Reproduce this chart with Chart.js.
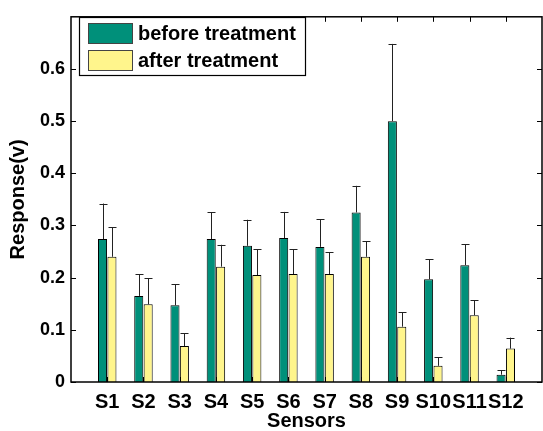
<!DOCTYPE html>
<html>
<head>
<meta charset="utf-8">
<script src="https://cdn.jsdelivr.net/npm/chart.js@4/dist/chart.umd.min.js"></script>
<style>
  html, body { margin: 0; padding: 0; background: #fff; }
  #wrap { width: 543px; height: 431px; }
</style>
</head>
<body>
<div id="wrap"><canvas id="bar-chart"></canvas></div>
<script>
// sensor names and measured responses (V)
var sensors = ["S1","S2","S3","S4","S5","S6","S7","S8","S9","S10","S11","S12"];
var before = [0.274,0.165,0.147,0.274,0.261,0.276,0.259,0.325,0.500,0.197,0.224,0.014];
var beforeErr = [0.068,0.042,0.040,0.051,0.050,0.050,0.053,0.051,0.148,0.038,0.040,0.009];
var after = [0.240,0.149,0.069,0.221,0.205,0.207,0.207,0.240,0.106,0.031,0.128,0.064];
var afterErr = [0.057,0.050,0.024,0.042,0.049,0.047,0.042,0.030,0.028,0.016,0.029,0.021];
var yTicks = [0,0.1,0.2,0.3,0.4,0.5,0.6];

var green = "#00907a";
var yellow = "#fff58c";
var fam = "'Liberation Sans', Arial, sans-serif";
var bigFont = { family: fam, size: 20, weight: "bold" };
var tickFont = { family: fam, size: 18, weight: "bold" };

function pts(vals) {
  return vals.map(function (v, i) { return { x: i + 1, y: v }; });
}

// upward error bars
var errorBars = {
  id: "errorBars",
  afterDatasetsDraw: function (chart) {
    var ctx = chart.ctx, y = chart.scales.y;
    var errs = [beforeErr, afterErr];
    ctx.save();
    ctx.strokeStyle = "#222";
    ctx.lineWidth = 1;
    chart.data.datasets.forEach(function (ds, d) {
      chart.getDatasetMeta(d).data.forEach(function (bar, i) {
        var top = y.getPixelForValue(ds.data[i].y + errs[d][i]);
        var base = y.getPixelForValue(ds.data[i].y);
        var x = Math.round(bar.x) + 0.5;
        ctx.beginPath();
        ctx.moveTo(x, base);
        ctx.lineTo(x, top);
        ctx.moveTo(x - 4, Math.round(top) + 0.5);
        ctx.lineTo(x + 4, Math.round(top) + 0.5);
        ctx.stroke();
      });
    });
    ctx.restore();
  }
};

// matlab style box with inward ticks, plus legend box
var frame = {
  id: "frame",
  afterDraw: function (chart) {
    var ctx = chart.ctx, a = chart.chartArea;
    var xs = chart.scales.x, ys = chart.scales.y;
    ctx.save();
    ctx.strokeStyle = "#000";
    ctx.lineWidth = 1.5;
    ctx.strokeRect(a.left, a.top, a.right - a.left, a.bottom - a.top);
    ctx.lineWidth = 1;
    ctx.beginPath();
    sensors.forEach(function (s, i) {
      var px = Math.round(xs.getPixelForValue(i + 1)) + 0.5;
      ctx.moveTo(px, a.top); ctx.lineTo(px, a.top + 5);
      ctx.moveTo(px, a.bottom); ctx.lineTo(px, a.bottom - 5);
    });
    yTicks.forEach(function (v) {
      var py = Math.round(ys.getPixelForValue(v)) + 0.5;
      ctx.moveTo(a.left, py); ctx.lineTo(a.left + 5, py);
      ctx.moveTo(a.right, py); ctx.lineTo(a.right - 5, py);
    });
    ctx.stroke();

    // legend
    var lx = 79, ly = 17, lw = 226, lh = 58;
    ctx.fillStyle = "#fff";
    ctx.fillRect(lx, ly, lw, lh);
    ctx.lineWidth = 1.2;
    ctx.strokeRect(lx + 0.5, ly + 0.5, lw, lh);
    var items = [[green, "before treatment"], [yellow, "after treatment"]];
    ctx.font = "bold 20px " + fam;
    ctx.textBaseline = "middle";
    items.forEach(function (it, k) {
      var sy = 23 + k * 27;
      ctx.fillStyle = it[0];
      ctx.fillRect(88, sy, 44, 20);
      ctx.strokeStyle = "#444";
      ctx.lineWidth = 1;
      ctx.strokeRect(88.5, sy + 0.5, 44, 20);
      ctx.fillStyle = "#000";
      ctx.fillText(it[1], 138, sy + 11);
    });
    ctx.restore();
  }
};

new Chart(document.getElementById("bar-chart"), {
  type: "bar",
  data: {
    datasets: [
      { label: "before treatment", data: pts(before), backgroundColor: green,
        borderColor: "#000", borderWidth: 1, categoryPercentage: 0.52, barPercentage: 0.96 },
      { label: "after treatment", data: pts(after), backgroundColor: yellow,
        borderColor: "#000", borderWidth: 1, categoryPercentage: 0.52, barPercentage: 0.96 }
    ]
  },
  options: {
    responsive: true,
    maintainAspectRatio: false,
    animation: false,
    layout: { autoPadding: false, padding: { top: 6, right: 1, left: 0, bottom: 0 } },
    plugins: { legend: { display: false }, tooltip: { enabled: false } },
    scales: {
      x: {
        type: "linear", min: 0, max: 13, offset: false,
        afterFit: function (s) { s.height = 49; },
        afterBuildTicks: function (s) { s.ticks = sensors.map(function (t, i) { return { value: i + 1 }; }); },
        grid: { display: false, drawTicks: false },
        border: { display: false },
        ticks: { autoSkip: false, maxRotation: 0, padding: 8, color: "#000", font: bigFont,
          callback: function (v) { return sensors[v - 1] || ""; } },
        title: { display: true, text: "Sensors", color: "#000",
          font: { family: fam, size: 20, weight: "bold", lineHeight: 1 }, padding: { top: 0, bottom: 0 } }
      },
      y: {
        min: 0, max: 0.7,
        afterFit: function (s) { s.width = 71; },
        afterBuildTicks: function (s) { s.ticks = yTicks.map(function (v) { return { value: v }; }); },
        grid: { display: false, drawTicks: false },
        border: { display: false },
        ticks: { padding: 6, color: "#000", font: tickFont,
          callback: function (v) { return v === 0 ? "0" : v.toFixed(1); } },
        title: { display: true, text: "Response(v)", color: "#000", font: bigFont, padding: { top: 6, bottom: 2 } }
      }
    }
  },
  plugins: [errorBars, frame]
});
</script>
</body>
</html>
